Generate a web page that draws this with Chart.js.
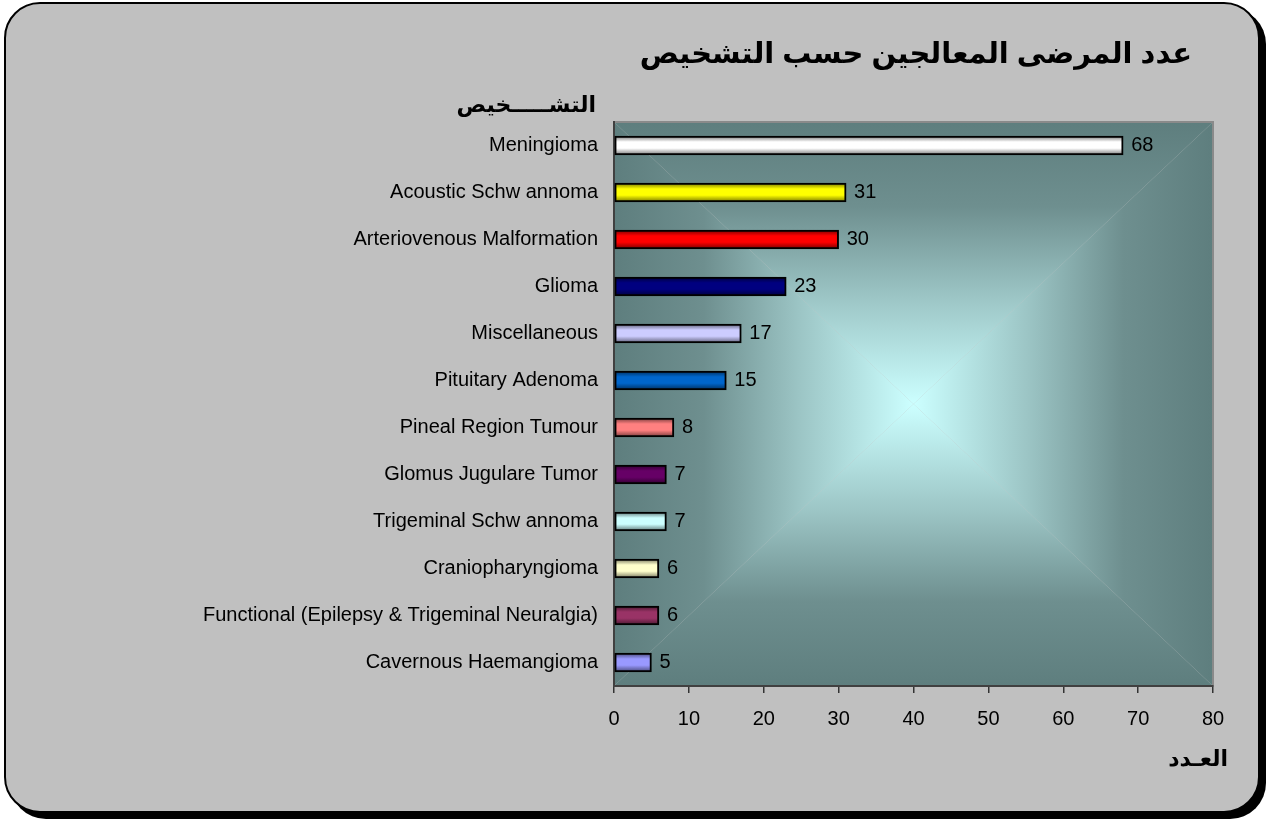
<!DOCTYPE html>
<html>
<head>
<meta charset="utf-8">
<script src="https://cdn.jsdelivr.net/npm/chart.js@4.4.0/dist/chart.umd.min.js"></script>
<style>
  html, body { margin: 0; padding: 0; background: #fff; }
  .frame {
    position: absolute; left: 4px; top: 2px; width: 1252px; height: 807px;
    background: #c0c0c0; border: 2px solid #000; border-radius: 36px;
    box-shadow: 6px 6px 0 #000;
  }
  .chart-box { position: absolute; left: 0; top: 0; width: 1270px; height: 821px; }
</style>
</head>
<body>
<div class="frame"></div>
<div class="chart-box"><canvas id="diagChart" width="1270" height="821"></canvas></div>
<script>
// Data
const categories = [
  "Meningioma", "Acoustic Schw annoma", "Arteriovenous Malformation", "Glioma",
  "Miscellaneous", "Pituitary Adenoma", "Pineal Region Tumour", "Glomus Jugulare Tumor",
  "Trigeminal Schw annoma", "Craniopharyngioma",
  "Functional (Epilepsy & Trigeminal Neuralgia)", "Cavernous Haemangioma"
];
const patientCounts = [68, 31, 30, 23, 17, 15, 8, 7, 7, 6, 6, 5];
const barColors = [
  "#ffffff", "#ffff00", "#ff0000", "#000080", "#ccccff", "#0066cc",
  "#ff8080", "#660066", "#ccffff", "#ffffcc", "#993366", "#9999ff"
];
const xMin = 0, xMax = 80, xStep = 10;
const chartTitle = "عدد المرضى المعالجين حسب التشخيص";
const yTitle = "التشـــــخيص";
const xTitle = "العـدد";

const FONT = "Arial, 'Liberation Sans', 'DejaVu Sans', sans-serif";

// darken a hex colour
function shade(hex, f) {
  const n = parseInt(hex.slice(1), 16);
  const r = Math.round(((n >> 16) & 255) * f);
  const g = Math.round(((n >> 8) & 255) * f);
  const b = Math.round((n & 255) * f);
  return "rgb(" + r + "," + g + "," + b + ")";
}

// bar fill with a tube-like highlight
function barFill(context) {
  const chart = context.chart;
  const base = barColors[context.dataIndex];
  const yScale = chart.scales.y;
  if (!yScale || !chart.chartArea) return base;
  const cy = yScale.getPixelForValue(context.dataIndex);
  const g = chart.ctx.createLinearGradient(0, cy - 9, 0, cy + 9);
  g.addColorStop(0, shade(base, 0.5));
  g.addColorStop(0.3, base);
  g.addColorStop(0.65, base);
  g.addColorStop(1, shade(base, 0.5));
  return g;
}

const chartDecor = {
  id: "chartDecor",
  beforeDraw(chart) {
    const c = chart.ctx, a = chart.chartArea;
    const l = a.left, t = a.top, r = a.right, b = a.bottom;
    const cx = (l + r) / 2, cy = (t + b) / 2;
    const stops = [[0, "#5e7e7e"], [0.3, "#6e8f8f"], [0.62, "#9cc5c5"], [1, "#ccffff"]];
    const tri = function (p1, p2, gx0, gy0, gx1, gy1) {
      const g = c.createLinearGradient(gx0, gy0, gx1, gy1);
      stops.forEach(function (s) { g.addColorStop(s[0], s[1]); });
      c.beginPath();
      c.moveTo(p1[0], p1[1]); c.lineTo(p2[0], p2[1]); c.lineTo(cx, cy);
      c.closePath();
      c.fillStyle = g;
      c.fill();
    };
    c.save();
    tri([l, t], [r, t], 0, t, 0, cy);
    tri([l, b], [r, b], 0, b, 0, cy);
    tri([l, t], [l, b], l, 0, cx, 0);
    tri([r, t], [r, b], r, 0, cx, 0);
    c.strokeStyle = "#8a8a8a";
    c.lineWidth = 2;
    c.strokeRect(l, t, r - l, b - t);
    c.restore();
  },
  afterDatasetsDraw(chart) {
    const c = chart.ctx;
    const meta = chart.getDatasetMeta(0);
    c.save();
    c.font = "20px " + FONT;
    c.fillStyle = "#000";
    c.textAlign = "left";
    c.textBaseline = "middle";
    meta.data.forEach(function (bar, i) {
      c.fillText(String(patientCounts[i]), bar.x + 8, bar.y);
    });
    c.restore();
  },
  afterDraw(chart) {
    const c = chart.ctx, a = chart.chartArea;
    c.save();
    c.fillStyle = "#000";
    c.textAlign = "right";
    c.textBaseline = "middle";
    c.font = "bold 29px " + FONT;
    c.fillText(chartTitle, 1192, 55);
    c.font = "bold 22px " + FONT;
    c.fillText(yTitle, a.left - 18, 106);
    c.fillText(xTitle, a.right + 15, 760);
    c.restore();
  }
};

new Chart(document.getElementById("diagChart"), {
  type: "bar",
  data: {
    labels: categories,
    datasets: [{
      data: patientCounts,
      backgroundColor: barFill,
      borderColor: "#000",
      borderWidth: 2,
      borderSkipped: false,
      barThickness: 19
    }]
  },
  options: {
    indexAxis: "y",
    responsive: false,
    animation: false,
    layout: { padding: { left: 0, top: 122, right: 57, bottom: 95 } },
    plugins: {
      legend: { display: false },
      title: { display: false },
      tooltip: { enabled: false }
    },
    scales: {
      x: {
        min: xMin, max: xMax,
        ticks: { stepSize: xStep, color: "#000", font: { family: FONT, size: 20 }, padding: 14 },
        grid: { drawOnChartArea: false, drawTicks: true, tickLength: 7, color: "#333", lineWidth: 1.5 },
        border: { color: "#404040", width: 2 },
        afterFit: function (scale) { scale.height = 40; }
      },
      y: {
        ticks: { color: "#000", font: { family: FONT, size: 20 }, padding: 8 },
        grid: { display: false },
        border: { color: "#404040", width: 2 },
        afterFit: function (scale) { scale.width = 614; }
      }
    }
  },
  plugins: [chartDecor]
});
</script>
</body>
</html>
